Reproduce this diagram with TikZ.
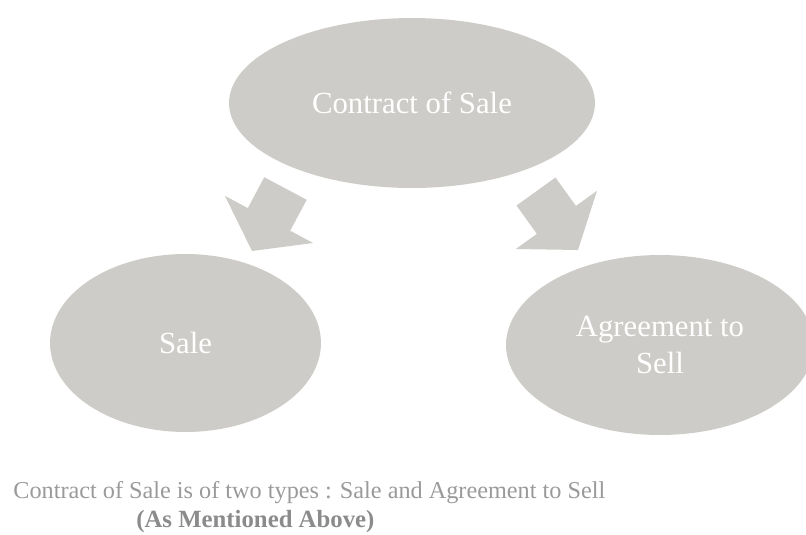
\documentclass[tikz,border=0pt]{standalone}
\usepackage{fontspec}
\setmainfont{Liberation Serif}
\usepackage{tikz}
\usetikzlibrary{shapes.geometric}
\usepackage{xcolor}
\definecolor{shapegray}{HTML}{CECCC8}
\definecolor{notegray}{HTML}{9A9A9A}

\begin{document}
\begin{tikzpicture}[x=0.02cm, y=-0.02cm,
  topic/.style={ellipse, fill=shapegray, inner sep=0pt, align=center, text=white, font=\fontsize{17.5}{20.5}\selectfont},
  blockarr/.style={fill=shapegray},
  note/.style={anchor=west, inner sep=0pt, text=notegray, font=\fontsize{13.8}{16}\selectfont}
]
\clip (0,0) rectangle (806,535);
\node[topic, minimum width=7.32cm, minimum height=3.4cm] (cos) at (412,103) {Contract of Sale};
\node[topic, minimum width=5.42cm, minimum height=3.56cm] (sale) at (185.5,343) {Sale};
\node[topic, minimum width=6.16cm, minimum height=3.6cm] (ats) at (660,345) {Agreement to\\Sell};
% block arrows
\fill[blockarr] (264.3,177.2) -- (306.7,199.8) -- (290.2,230.7) -- (313.1,243) -- (252,251) -- (224.9,195.8) -- (247.8,208.1) -- cycle;
\fill[blockarr] (555.5,177.5) -- (575.9,205.9) -- (597,190.8) -- (578,250) -- (515.8,249) -- (536.9,233.9) -- (516.5,205.5) -- cycle;
% caption
\node[note] (cap1) at (13,493) {Contract of Sale is of two types : Sale and Agreement to Sell};
\node[note, font=\bfseries\fontsize{14.1}{16}\selectfont, text=notegray!90!black] (cap2) at (136,522) {(As Mentioned Above)};
\end{tikzpicture}
\end{document}
